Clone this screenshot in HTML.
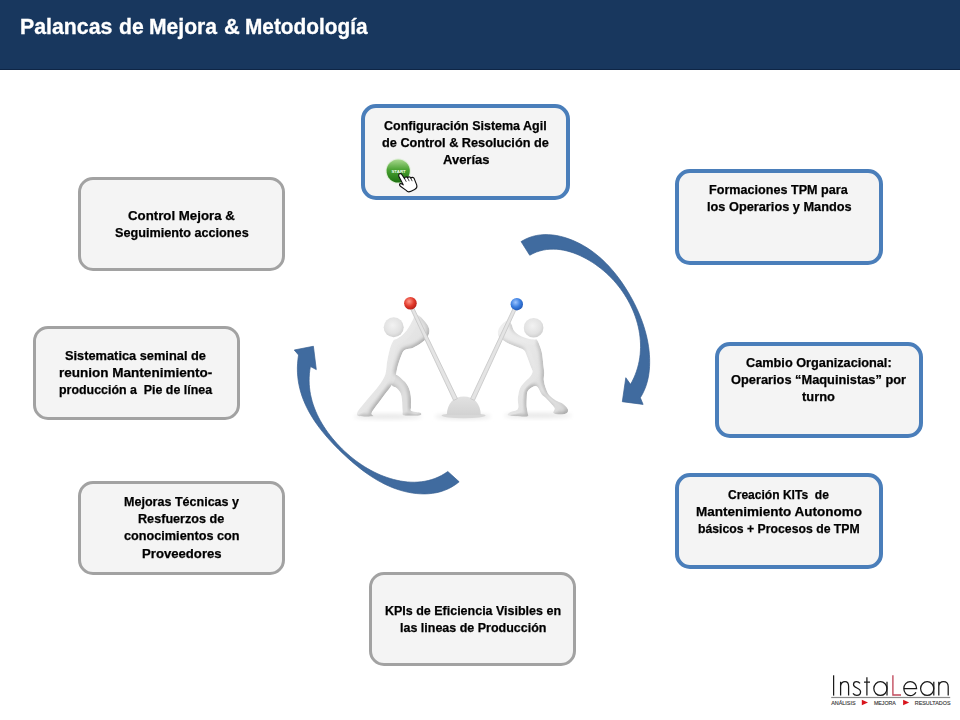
<!DOCTYPE html>
<html><head><meta charset="utf-8"><title>Palancas de Mejora</title><style>
html,body{margin:0;padding:0}
body{width:960px;height:720px;overflow:hidden;background:#fff;position:relative;font-family:"Liberation Sans",sans-serif}
.hdr{position:absolute;left:0;top:0;width:960px;height:70px;background:#18375e;border-bottom:1px solid #0e2545;box-sizing:border-box}
.ttl{position:absolute;left:0;top:0;white-space:pre;font-weight:bold;font-size:21px;line-height:24px;color:#fff;-webkit-text-stroke:0.3px #fff;transform-origin:0 0}
.box{position:absolute;box-sizing:border-box;border-radius:15px;background:#f4f4f4}
.b{border:4px solid #4a7eba}
.g{border:3px solid #a2a2a2}
.ln{position:absolute;white-space:pre;font-weight:bold;font-size:12.75px;line-height:17.10px;color:#000;-webkit-text-stroke:0.25px #000;transform-origin:0 0}
svg{position:absolute;left:0;top:0}
</style></head><body>
<div class="hdr"></div>
<div class="ttl" style="left:20.41px;top:14.95px;font-size:21.50px;transform:scaleX(0.9909)">Palancas</div>
<div class="ttl" style="left:118.55px;top:14.95px;font-size:21.50px;transform:scaleX(0.9857)">de</div>
<div class="ttl" style="left:148.52px;top:14.95px;font-size:21.50px;transform:scaleX(0.9817)">Mejora</div>
<div class="ttl" style="left:224.13px;top:14.95px;font-size:21.50px;transform:scaleX(1.0161)">&amp;</div>
<div class="ttl" style="left:245.34px;top:14.95px;font-size:21.50px;transform:scaleX(0.9686)">Metodología</div>
<div class="box b" style="left:361px;top:104px;width:209px;height:96px"></div>
<div class="box g" style="left:78px;top:177px;width:207px;height:94px"></div>
<div class="box b" style="left:675px;top:169px;width:208px;height:96px"></div>
<div class="box b" style="left:715px;top:342px;width:208px;height:96px"></div>
<div class="box b" style="left:675px;top:473px;width:208px;height:96px"></div>
<div class="box g" style="left:369px;top:572px;width:207px;height:94px"></div>
<div class="box g" style="left:78px;top:481px;width:207px;height:94px"></div>
<div class="box g" style="left:33px;top:326px;width:207px;height:94px"></div>
<div class="ln" style="left:384.40px;top:117.43px;transform:scaleX(0.9799)">Configuración Sistema Agil</div>
<div class="ln" style="left:381.79px;top:134.33px;transform:scaleX(0.9978)">de Control &amp; Resolución de</div>
<div class="ln" style="left:442.91px;top:151.43px;transform:scaleX(1.0196)">Averías</div>
<div class="ln" style="left:127.87px;top:207.03px;transform:scaleX(1.0399)">Control Mejora &amp;</div>
<div class="ln" style="left:115.12px;top:223.93px;transform:scaleX(0.9929)">Seguimiento acciones</div>
<div class="ln" style="left:708.82px;top:181.13px;transform:scaleX(0.9886)">Formaciones TPM para</div>
<div class="ln" style="left:706.91px;top:197.93px;transform:scaleX(1.0010)">los Operarios y Mandos</div>
<div class="ln" style="left:745.89px;top:353.83px;transform:scaleX(0.9979)">Cambio Organizacional:</div>
<div class="ln" style="left:731.39px;top:370.73px;transform:scaleX(1.0045)">Operarios “Maquinistas” por</div>
<div class="ln" style="left:802.47px;top:387.83px;transform:scaleX(1.0093)">turno</div>
<div class="ln" style="left:728.12px;top:485.83px;transform:scaleX(0.9450)">Creación KITs  de</div>
<div class="ln" style="left:695.55px;top:502.93px;transform:scaleX(1.0597)">Mantenimiento Autonomo</div>
<div class="ln" style="left:698.44px;top:520.03px;transform:scaleX(0.9609)">básicos + Procesos de TPM</div>
<div class="ln" style="left:384.73px;top:602.33px;transform:scaleX(0.9791)">KPIs de Eficiencia Visibles en</div>
<div class="ln" style="left:400.13px;top:619.23px;transform:scaleX(0.9792)">las lineas de Producción</div>
<div class="ln" style="left:123.92px;top:492.73px;transform:scaleX(0.9836)">Mejoras Técnicas y</div>
<div class="ln" style="left:138.42px;top:509.93px;transform:scaleX(0.9906)">Resfuerzos de</div>
<div class="ln" style="left:123.69px;top:527.23px;transform:scaleX(0.9941)">conocimientos con</div>
<div class="ln" style="left:141.58px;top:544.63px;transform:scaleX(1.0308)">Proveedores</div>
<div class="ln" style="left:64.82px;top:347.03px;transform:scaleX(1.0044)">Sistematica seminal de</div>
<div class="ln" style="left:59.05px;top:364.03px;transform:scaleX(1.0604)">reunion Mantenimiento-</div>
<div class="ln" style="left:59.13px;top:380.93px;transform:scaleX(0.9729)">producción a  Pie de línea</div>
<svg width="960" height="720" viewBox="0 0 960 720">
<defs>
<linearGradient id="gball" x1="0" y1="0" x2="0" y2="1"><stop offset="0" stop-color="#a8d88e"/><stop offset="0.45" stop-color="#4aa232"/><stop offset="1" stop-color="#1d7010"/></linearGradient>
<radialGradient id="rball" cx="0.4" cy="0.35" r="0.7"><stop offset="0" stop-color="#ff9a8a"/><stop offset="0.55" stop-color="#e23a2c"/><stop offset="1" stop-color="#b01a12"/></radialGradient>
<radialGradient id="bball" cx="0.4" cy="0.35" r="0.7"><stop offset="0" stop-color="#9cc4ff"/><stop offset="0.55" stop-color="#3a7ee0"/><stop offset="1" stop-color="#1f55b0"/></radialGradient>
<radialGradient id="head" cx="0.45" cy="0.4" r="0.7"><stop offset="0" stop-color="#f2f2f2"/><stop offset="0.6" stop-color="#e2e2e2"/><stop offset="1" stop-color="#c6c6c6"/></radialGradient>
<linearGradient id="bodyL" x1="0" y1="0" x2="1" y2="1"><stop offset="0" stop-color="#f2f2f2"/><stop offset="0.5" stop-color="#e6e6e6"/><stop offset="1" stop-color="#d6d6d6"/></linearGradient>
<linearGradient id="bodyR" x1="0" y1="0" x2="1" y2="1"><stop offset="0" stop-color="#f0f0f0"/><stop offset="0.5" stop-color="#e6e6e6"/><stop offset="1" stop-color="#d8d8d8"/></linearGradient>
<linearGradient id="dome" x1="0" y1="0" x2="0" y2="1"><stop offset="0" stop-color="#e2e2e2"/><stop offset="1" stop-color="#d2d2d2"/></linearGradient>
<filter id="fig3d" x="-10%" y="-10%" width="120%" height="120%">
<feGaussianBlur in="SourceAlpha" stdDeviation="2" result="b"/>
<feDiffuseLighting in="b" surfaceScale="3" diffuseConstant="1.25" lighting-color="#ffffff" result="light"><feDistantLight azimuth="225" elevation="50"/></feDiffuseLighting>
<feComposite in="light" in2="SourceAlpha" operator="in" result="lit"/>
<feComposite in="SourceGraphic" in2="lit" operator="arithmetic" k1="0.45" k2="0.55" k3="0" k4="0"/>
</filter>
<linearGradient id="lev" x1="0" y1="0" x2="1" y2="-0.45"><stop offset="0" stop-color="#d6d6d6"/><stop offset="0.5" stop-color="#eeeeee"/><stop offset="1" stop-color="#d0d0d0"/></linearGradient>
<linearGradient id="lev2" x1="0" y1="0" x2="1" y2="0.45"><stop offset="0" stop-color="#d6d6d6"/><stop offset="0.5" stop-color="#eeeeee"/><stop offset="1" stop-color="#d0d0d0"/></linearGradient>
<filter id="blur1" x="-50%" y="-50%" width="200%" height="200%"><feGaussianBlur stdDeviation="2"/></filter>
<filter id="blur05" x="-20%" y="-20%" width="140%" height="140%"><feGaussianBlur stdDeviation="0.6"/></filter>
</defs>
<path d="M521.07 241.62 L524.81 239.48 L528.64 237.76 L532.55 236.43 L536.52 235.48 L540.54 234.88 L544.59 234.61 L548.66 234.65 L552.73 234.98 L556.79 235.59 L560.82 236.45 L564.81 237.53 L568.74 238.83 L572.59 240.32 L576.36 241.98 L580.03 243.79 L583.60 245.76 L587.07 247.86 L590.45 250.10 L593.73 252.47 L596.92 254.97 L600.02 257.58 L603.03 260.31 L605.94 263.15 L608.77 266.09 L611.51 269.13 L614.17 272.25 L616.74 275.47 L619.23 278.76 L621.63 282.12 L623.95 285.55 L626.19 289.05 L628.36 292.60 L630.44 296.20 L632.45 299.85 L634.37 303.54 L636.20 307.27 L637.94 311.04 L639.58 314.85 L641.11 318.70 L642.54 322.57 L643.85 326.47 L645.04 330.40 L646.10 334.36 L647.04 338.34 L647.84 342.33 L648.51 346.34 L649.03 350.37 L649.40 354.41 L649.61 358.46 L649.67 362.52 L649.56 366.57 L649.25 370.62 L648.74 374.64 L648.01 378.63 L647.03 382.58 L645.79 386.48 L644.27 390.31 L642.46 394.07 L640.34 397.75 L643.1 404.4 L622.3 401.7 L625.8 377.7 L630.52 384.37 L632.27 381.16 L633.84 377.92 L635.24 374.63 L636.47 371.31 L637.53 367.96 L638.42 364.58 L639.16 361.18 L639.73 357.77 L640.16 354.33 L640.42 350.89 L640.54 347.44 L640.52 343.99 L640.34 340.54 L640.03 337.10 L639.58 333.66 L639.00 330.24 L638.29 326.84 L637.44 323.46 L636.47 320.10 L635.38 316.78 L634.17 313.48 L632.84 310.23 L631.39 307.01 L629.84 303.85 L628.18 300.73 L626.41 297.66 L624.55 294.66 L622.58 291.71 L620.52 288.83 L618.36 286.02 L616.11 283.28 L613.78 280.62 L611.36 278.03 L608.86 275.53 L606.28 273.11 L603.63 270.77 L600.90 268.53 L598.10 266.38 L595.24 264.32 L592.31 262.37 L589.31 260.51 L586.26 258.76 L583.16 257.13 L580.00 255.61 L576.79 254.22 L573.54 252.98 L570.26 251.88 L566.93 250.96 L563.58 250.21 L560.21 249.64 L556.81 249.28 L553.40 249.13 L549.99 249.21 L546.57 249.53 L543.17 250.11 L539.77 250.96 L536.39 252.09 L533.04 253.52 L529.73 255.25 Z" fill="#406b9f" stroke="#375e90" stroke-width="0.7" stroke-linejoin="round"/>
<path d="M298.54 355.00 L297.93 359.39 L297.55 363.71 L297.39 367.96 L297.45 372.16 L297.73 376.28 L298.20 380.35 L298.87 384.35 L299.73 388.29 L300.77 392.17 L301.98 395.99 L303.36 399.75 L304.90 403.45 L306.59 407.10 L308.42 410.69 L310.39 414.23 L312.49 417.71 L314.71 421.13 L317.04 424.51 L319.48 427.83 L322.02 431.10 L324.65 434.32 L327.37 437.49 L330.16 440.62 L333.03 443.69 L335.95 446.72 L338.93 449.71 L341.96 452.65 L345.03 455.54 L348.14 458.39 L351.28 461.18 L354.47 463.90 L357.70 466.56 L360.98 469.14 L364.30 471.63 L367.67 474.03 L371.08 476.34 L374.55 478.53 L378.07 480.61 L381.63 482.57 L385.26 484.40 L388.93 486.10 L392.67 487.65 L396.46 489.05 L400.31 490.29 L404.22 491.37 L408.20 492.28 L412.23 493.00 L416.29 493.52 L420.39 493.83 L424.49 493.91 L428.59 493.75 L432.66 493.33 L436.69 492.63 L440.66 491.63 L444.57 490.34 L448.39 488.72 L452.10 486.76 L455.70 484.45 L459.15 481.78 L447.80 471.51 L444.66 473.62 L441.46 475.48 L438.21 477.09 L434.91 478.47 L431.57 479.62 L428.19 480.55 L424.78 481.26 L421.35 481.77 L417.90 482.09 L414.44 482.22 L410.97 482.17 L407.50 481.94 L404.03 481.56 L400.58 481.02 L397.14 480.33 L393.73 479.50 L390.34 478.54 L386.99 477.46 L383.67 476.26 L380.40 474.94 L377.16 473.51 L373.97 471.97 L370.82 470.33 L367.71 468.59 L364.66 466.75 L361.65 464.81 L358.70 462.78 L355.79 460.67 L352.95 458.47 L350.16 456.19 L347.43 453.84 L344.77 451.41 L342.16 448.91 L339.62 446.35 L337.15 443.72 L334.75 441.03 L332.42 438.29 L330.18 435.48 L328.02 432.63 L325.95 429.72 L323.97 426.75 L322.10 423.74 L320.33 420.68 L318.67 417.58 L317.13 414.42 L315.70 411.23 L314.40 407.99 L313.24 404.72 L312.20 401.40 L311.31 398.05 L310.56 394.66 L309.96 391.24 L309.52 387.79 L309.24 384.31 L309.12 380.80 L309.18 377.26 L309.40 373.70 L309.81 370.12 L310.41 366.51 L316.3 369.6 L313.4 346.25 L294.25 350 Z" fill="#406b9f" stroke="#375e90" stroke-width="0.7" stroke-linejoin="round"/>
<g id="figs">
<ellipse cx="463" cy="416.5" rx="28" ry="2.5" fill="#e4e4e4" filter="url(#blur1)"/>
<ellipse cx="388" cy="416.5" rx="34" ry="2.5" fill="#e6e6e6" filter="url(#blur1)"/>
<ellipse cx="538" cy="415.5" rx="34" ry="2.5" fill="#e6e6e6" filter="url(#blur1)"/>
<ellipse cx="463.6" cy="415.6" rx="22" ry="2.6" fill="#d7d7d7"/>
<path d="M446.8 415 C447 403 454 396.4 463.8 396.4 C473.5 396.4 480.6 403 480.8 415 Z" fill="url(#dome)"/>
<g filter="url(#fig3d)"><path d="M395.00 374.50 C397.02 373.83 401.83 378.83 404.10 381.00 C406.37 383.17 407.48 385.00 408.60 387.50 C409.72 390.00 410.40 392.70 410.80 396.00 C411.20 399.30 410.88 404.82 411.00 407.30 C411.12 409.78 409.93 410.00 411.50 410.90 C413.07 411.80 419.07 411.95 420.40 412.70 C421.73 413.45 422.22 414.95 419.50 415.40 C416.78 415.85 406.92 416.15 404.10 415.40 C401.28 414.65 402.95 413.47 402.60 410.90 C402.25 408.33 402.35 402.98 402.00 400.00 C401.65 397.02 401.42 395.00 400.50 393.00 C399.58 391.00 397.92 389.33 396.50 388.00 C395.08 386.67 392.25 387.25 392.00 385.00 C391.75 382.75 392.98 375.17 395.00 374.50 Z" fill="#dedede"/>
<path d="M393.30 340.50 C392.10 342.30 390.75 345.88 389.70 349.50 C388.65 353.12 387.75 357.98 387.00 362.20 C386.25 366.42 386.55 370.90 385.20 374.80 C383.85 378.70 381.47 381.98 378.90 385.60 C376.33 389.22 372.82 392.88 369.80 396.50 C366.78 400.12 362.90 404.60 360.80 407.30 C358.70 410.00 357.50 411.20 357.20 412.70 C356.90 414.20 356.28 415.70 359.00 416.30 C361.72 416.90 371.38 416.90 373.50 416.30 C375.62 415.70 370.50 415.42 371.70 412.70 C372.90 409.98 377.40 404.52 380.70 400.00 C384.00 395.48 389.10 389.20 391.50 385.60 C393.90 382.00 394.05 381.70 395.10 378.40 C396.15 375.10 396.60 370.00 397.80 365.80 C399.00 361.60 400.95 355.92 402.30 353.20 C403.65 350.48 404.08 350.42 405.90 349.50 C407.72 348.58 410.48 348.90 413.20 347.70 C415.92 346.50 419.80 344.10 422.20 342.30 C424.60 340.50 426.40 339.00 427.60 336.90 C428.80 334.80 429.70 332.10 429.40 329.70 C429.10 327.30 427.60 324.90 425.80 322.50 C424.00 320.10 420.55 316.35 418.60 315.30 C416.65 314.25 415.00 315.60 414.10 316.20 C413.20 316.80 414.27 316.80 413.20 318.90 C412.13 321.00 409.52 326.10 407.70 328.80 C405.88 331.50 404.10 333.45 402.30 335.10 C400.50 336.75 398.40 337.80 396.90 338.70 C395.40 339.60 394.50 338.70 393.30 340.50 Z" fill="url(#bodyL)"/>
<path d="M537.50 340.50 C538.70 342.53 540.73 347.75 541.70 351.70 C542.67 355.65 542.88 360.73 543.30 364.20 C543.72 367.67 544.12 369.87 544.20 372.50 C544.28 375.13 543.53 377.37 543.80 380.00 C544.07 382.63 544.90 385.80 545.80 388.30 C546.70 390.80 547.50 392.97 549.20 395.00 C550.90 397.03 553.83 399.12 556.00 400.50 C558.17 401.88 560.23 401.90 562.20 403.30 C564.17 404.70 567.05 407.23 567.80 408.90 C568.55 410.57 568.00 412.35 566.70 413.30 C565.40 414.25 562.23 414.65 560.00 414.60 C557.77 414.55 554.23 414.13 553.30 413.00 C552.37 411.87 555.50 410.15 554.40 407.80 C553.30 405.45 548.82 401.12 546.70 398.90 C544.58 396.68 543.23 396.48 541.70 394.50 C540.17 392.52 538.87 388.33 537.50 387.00 C536.13 385.67 535.12 385.83 533.50 386.50 C531.88 387.17 528.92 389.08 527.80 391.00 C526.68 392.92 526.98 395.38 526.80 398.00 C526.62 400.62 526.53 404.15 526.70 406.70 C526.87 409.25 527.80 411.63 527.80 413.30 C527.80 414.97 529.85 416.32 526.70 416.70 C523.55 417.08 511.68 416.35 508.90 415.60 C506.12 414.85 508.52 413.32 510.00 412.20 C511.48 411.08 516.50 410.93 517.80 408.90 C519.10 406.87 517.72 402.32 517.80 400.00 C517.88 397.68 517.93 396.95 518.30 395.00 C518.67 393.05 519.02 390.38 520.00 388.30 C520.98 386.22 522.53 384.43 524.20 382.50 C525.87 380.57 528.62 378.50 530.00 376.70 C531.38 374.90 532.37 373.37 532.50 371.70 C532.63 370.03 531.77 369.35 530.80 366.70 C529.83 364.05 527.80 358.50 526.70 355.80 C525.60 353.10 525.60 351.88 524.20 350.50 C522.80 349.12 520.67 348.55 518.30 347.50 C515.93 346.45 512.35 345.28 510.00 344.20 C507.65 343.12 506.10 342.28 504.20 341.00 C502.30 339.72 499.58 338.38 498.60 336.50 C497.62 334.62 497.70 331.80 498.30 329.70 C498.90 327.60 500.67 325.43 502.20 323.90 C503.73 322.37 505.95 320.48 507.50 320.50 C509.05 320.52 510.42 322.33 511.50 324.00 C512.58 325.67 512.58 328.58 514.00 330.50 C515.42 332.42 517.67 334.17 520.00 335.50 C522.33 336.83 525.58 337.83 528.00 338.50 C530.42 339.17 532.92 339.17 534.50 339.50 C536.08 339.83 536.30 338.47 537.50 340.50 Z" fill="url(#bodyR)"/></g>
<path d="M410.06 307.69 L453.60 400.40 L457.40 398.60 L412.94 306.31 Z" fill="#e4e4e4" stroke="#c8c8c8" stroke-width="0.9"/>
<path d="M514.05 306.33 L470.60 398.61 L474.40 400.39 L516.95 307.67 Z" fill="#e4e4e4" stroke="#c8c8c8" stroke-width="0.9"/>
<circle cx="393.7" cy="327.3" r="10" fill="url(#head)"/>
<circle cx="533.6" cy="327.7" r="9.8" fill="url(#head)"/>
<circle cx="410.4" cy="303.3" r="6.3" fill="url(#rball)"/>
<circle cx="516.8" cy="304.2" r="6.2" fill="url(#bball)"/>
</g>
<!-- start button -->
<circle cx="398.2" cy="171" r="12.6" fill="#d8ecd0" opacity="0.8"/>
<circle cx="398.2" cy="171" r="11.6" fill="url(#gball)"/>
<text x="398.6" y="173" font-family="Liberation Sans" font-weight="bold" font-size="4.4" fill="#f4fff0" text-anchor="middle">START</text>
<!-- hand cursor -->
<path d="M398.7 175.3 C398.5 173.9 400.6 173 401.6 174.2 L404.6 178.6 C404.6 176.8 406.8 176.2 407.6 177.9 C408.1 176.4 410.3 176.4 410.8 178.2 C411.6 176.9 413.5 177 414.2 178.6 L416.6 184.6 C417.3 186.6 416.6 188.4 414.6 189.4 L410.6 191.4 C408.8 192.2 407.2 191.6 406.2 190.4 L400.4 186.2 C399 185.2 399.4 183.4 400.9 183.6 C401.8 183.7 402.6 184.3 403.2 184.8 L398.9 176.6 Z" fill="#fff" stroke="#111" stroke-width="1.15" stroke-linejoin="round"/>
<path d="M404.6 178.6 L406.3 181.8 M407.6 177.9 L409.2 181.2 M410.8 178.2 L412.2 181.2" stroke="#111" stroke-width="0.8" fill="none"/>
<!-- logo -->
<g fill="none" stroke="#1a1a1a" stroke-width="1.25">
<path d="M833.6 675.3 V695.6"/>
<path d="M840.6 681.8 V695.6 M840.6 686 C841 683 843 681.6 845 681.6 C847.4 681.6 848.6 683.2 848.6 686.2 V695.6"/>
<path d="M860 683.4 C859 682 857.8 681.6 856.6 681.6 C854.6 681.6 853.5 682.8 853.5 684.4 C853.5 688.4 860.6 687.6 860.6 691.8 C860.6 694 859 695.4 856.8 695.4 C855 695.4 853.8 694.6 853 693.4"/>
<path d="M866.9 677.2 V695.6 M864 682.2 H870"/>
<ellipse cx="880.4" cy="688.6" rx="6.6" ry="6.9"/>
<path d="M887 681.8 V695.6"/>
<path d="M903.8 688.6 H916.6 C916.6 684.4 913.8 681.6 910.2 681.6 C906.6 681.6 903.8 684.6 903.8 688.6 C903.8 692.6 906.6 695.6 910.2 695.6 C912.8 695.6 914.8 694.2 915.9 692.2"/>
<ellipse cx="927.2" cy="688.6" rx="6.6" ry="6.9"/>
<path d="M933.8 681.8 V695.6"/>
<path d="M938.8 681.8 V695.6 M938.8 686 C939.2 683 941.2 681.6 943.4 681.6 C946.8 681.6 948.2 683.4 948.2 686.6 V695.6"/>
</g>
<path d="M892.9 675.3 V695 H901" fill="none" stroke="#c0485a" stroke-width="1.35"/>
<rect x="831.2" y="696.9" width="119" height="1.2" fill="#8c8c8c"/>
<g font-family="Liberation Sans" font-size="5.6" fill="#3a3a3a" stroke="#3a3a3a" stroke-width="0.15">
<text x="831.2" y="704.7" textLength="24.4" lengthAdjust="spacingAndGlyphs">ANÁLISIS</text>
<text x="873.9" y="704.7" textLength="22" lengthAdjust="spacingAndGlyphs">MEJORA</text>
<text x="914.8" y="704.7" textLength="35.7" lengthAdjust="spacingAndGlyphs">RESULTADOS</text>
</g>
<path d="M861.8 699.7 L868 702.5 L861.8 705.3 Z" fill="#d8141c"/>
<path d="M903.1 699.7 L909.2 702.5 L903.1 705.3 Z" fill="#d8141c"/>
</svg>
</body></html>
